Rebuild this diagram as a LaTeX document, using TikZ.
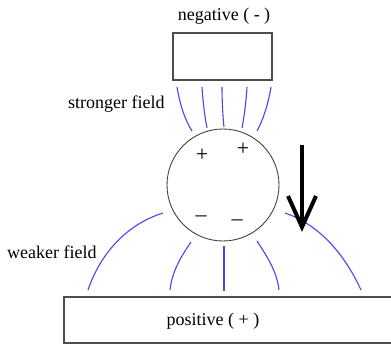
\documentclass[tikz,border=0pt]{standalone}
\usepackage{fontspec}
\setmainfont{Liberation Serif}
\usetikzlibrary{arrows.meta}
\definecolor{fieldblue}{RGB}{70,70,245}
\begin{document}
\begin{tikzpicture}[x=1pt,y=-1pt,
  plate/.style={draw=black!70,line width=1.2pt,fill=white},
  fline/.style={draw=fieldblue,line width=1.1pt},
  lbl/.style={font=\fontsize{18}{19}\selectfont,inner sep=0pt},
  chg/.style={font=\fontsize{22}{22}\selectfont,inner sep=0pt}]
\useasboundingbox (0,0) rectangle (391,345);
% plates
\node[plate,minimum width=99pt,minimum height=47pt,inner sep=0pt] (neg) at (222.5,56.5) {};
\node[lbl] (negl) at (224,16) {negative ( - )};
\draw[plate] (64,297) rectangle (392,343);
\node[lbl] (posl) at (213,321) {positive ( + )};
% sphere
\node[circle,draw=black!75,line width=0.9pt,minimum size=112pt,inner sep=0pt] (sph) at (223,185) {};
\node[chg] (p1) at (202,155) {+};
\node[chg] (p2) at (243,149) {+};
\node[chg] (m1) at (201,219) {\textendash};
\node[chg] (m2) at (237,223) {\textendash};
% labels
\node[lbl,anchor=west] (sf) at (68,104) {stronger field};
\node[lbl,anchor=west] (wf) at (7,252) {weaker field};
% top field lines
\draw[fline] (177,87) .. controls (180,105) and (185,120) .. (192,131);
\draw[fline] (202,87) .. controls (203,103) and (205,118) .. (207,128);
\draw[fline] (222,87) .. controls (222,103) and (223,118) .. (224,127);
\draw[fline] (247,87) .. controls (246,103) and (244,118) .. (242,128);
\draw[fline] (271,87) .. controls (268,105) and (263,120) .. (257,131);
% bottom field lines
\draw[fline] (163,213) .. controls (125,225) and (100,255) .. (88,290);
\draw[fline] (191,242) .. controls (180,258) and (172,272) .. (170,290);
\draw[fline] (224,246) -- (224,291);
\draw[fline] (257,241) .. controls (268,258) and (277,272) .. (279,290);
\draw[fline] (285,213) .. controls (320,225) and (345,255) .. (361,290);
% arrow
\coordinate (at) at (302,145);
\coordinate (ah) at (302,227);
\draw[line width=3.5pt] (at) -- (ah);
\draw[line width=4pt,line join=miter] (288,196) -- (ah) -- (316,196);
\end{tikzpicture}
\end{document}
